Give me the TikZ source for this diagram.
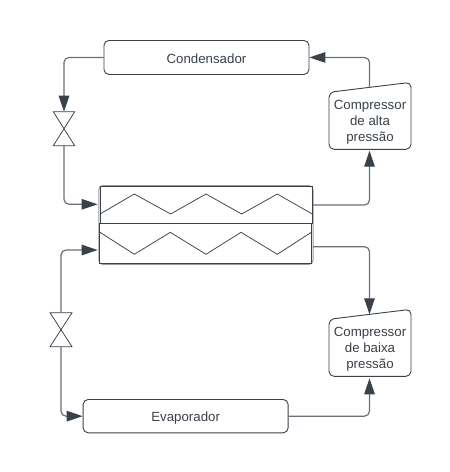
\documentclass[tikz,border=0pt]{standalone}
\usepackage{fontspec}
\setmainfont{Liberation Sans}
\usetikzlibrary{arrows.meta}
\definecolor{ink}{HTML}{3A414A}
\definecolor{wire}{HTML}{6B7078}
\tikzset{
  x=1pt,y=-1pt,
  lbl/.style={text=ink,font=\fontsize{13.3}{16}\selectfont,align=center,inner sep=0pt},
  procbox/.style={draw=ink,line width=0.9pt,rounded corners=5pt,inner sep=0pt,anchor=north west,lbl,text height=11.6pt,text depth=0pt},
  wireline/.style={draw=wire,line width=1.2pt,rounded corners=5pt,-{Triangle[length=16pt,width=10.5pt,color=ink,fill=ink]}},
  shapeline/.style={draw=ink,line width=0.9pt,line join=miter},
  thinline/.style={draw=ink,line width=0.75pt},
}
\begin{document}
\begin{tikzpicture}
\useasboundingbox[fill=white] (0,0) rectangle (450,472);

% boxes
\node[procbox,minimum width=205pt,minimum height=34pt] (cond) at (103.5,40) {Condensador};
\node[procbox,minimum width=205pt,minimum height=33.4pt] (evap) at (82.7,399) {Evaporador};

% compressors
\draw[shapeline,rounded corners=5pt] (329,92.3) -- (411,82.3) -- (411,149.3) -- (329,149.3) -- cycle;
\node[lbl] (alta) at (370,122.6) {Compressor\\de alta\\pressão};
\coordinate (altaTop) at (369.5,87.3);
\coordinate (altaBot) at (369.5,150.7);
\draw[shapeline,rounded corners=5pt] (329,319.3) -- (411,309.3) -- (411,376.3) -- (329,376.3) -- cycle;
\node[lbl] (baixa) at (370,349.6) {Compressor\\de baixa\\pressão};
\coordinate (baixaTop) at (369.5,314.3);
\coordinate (baixaBot) at (369.5,378.3);

% valves
\coordinate (vaTop) at (64,111.7);
\coordinate (vaBot) at (64,145.7);
\draw[thinline,line join=miter] (53.3,111.7) -- (74.7,111.7) -- (53.3,145.7) -- (74.7,145.7) -- cycle;
\coordinate (vbTop) at (61,312.7);
\coordinate (vbBot) at (61,346.7);
\draw[thinline,line join=miter] (50,312.7) -- (72,312.7) -- (50,346.7) -- (72,346.7) -- cycle;

% heat exchanger
\draw[draw=wire!70,line width=1pt,rounded corners=4pt] (98.8,185.6) rectangle (313,264.4);
\draw[shapeline] (100,186.3) rectangle (312.3,223.3);
\draw[shapeline] (99.3,223.3) rectangle (311.7,263.5);
\draw[thinline] (100,214) -- (134.3,194) -- (170.7,214) -- (206,194) -- (241.7,214) -- (277.3,194) -- (312.3,214);
\draw[thinline] (100,232.3) -- (134.3,254.3) -- (170.3,232.3) -- (206,254.3) -- (241,232.3) -- (277.3,254.3) -- (311.3,232.3);
\coordinate (hxInA) at (97.6,204.3);
\coordinate (hxInB) at (97.6,250);
\coordinate (hxOutA) at (313,205);
\coordinate (hxOutB) at (313,246.7);

% connectors
\draw[wireline] (cond.west) -| (vaTop);
\draw[wireline] (vaBot) |- (hxInA);
\draw[wireline] (hxOutA) -| (altaBot);
\draw[wireline] (altaTop) |- (cond.east);
\draw[wireline] (hxOutB) -| (baixaTop);
\draw[wireline] (evap.east) -| (baixaBot);
\draw[wireline] (vbTop) |- (hxInB);
\draw[wireline] (vbBot) |- (evap.west);
\end{tikzpicture}
\end{document}
